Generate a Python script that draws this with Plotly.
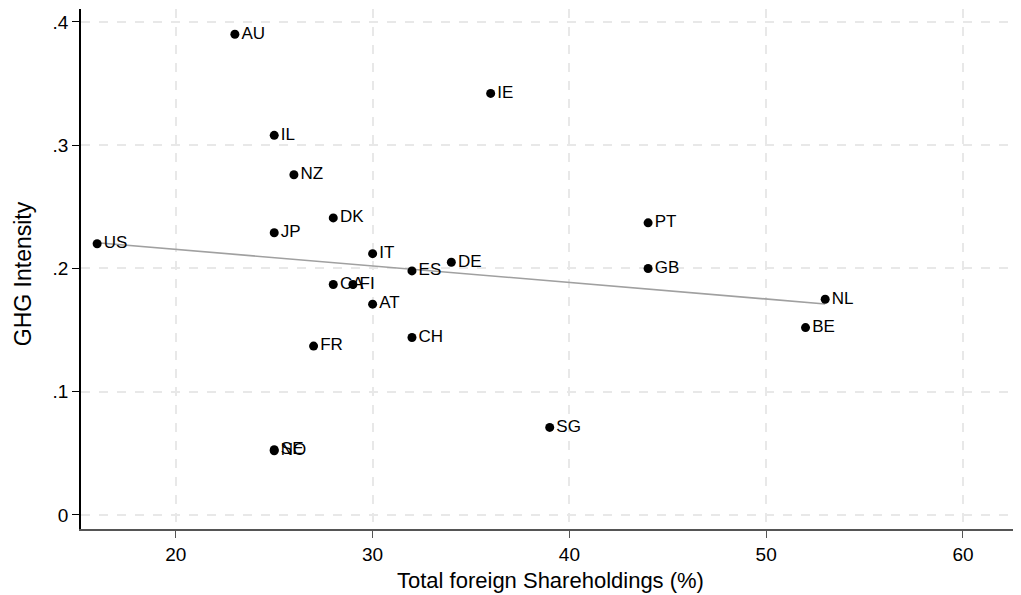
import numpy as np
import plotly.graph_objects as go

countries = ["US", "AU", "IE", "IL", "NZ", "DK", "JP", "PT", "IT", "DE", "ES",
             "GB", "CA", "FI", "AT", "NL", "BE", "CH", "FR", "SG", "SE", "NO"]
foreign_share = [16, 23, 36, 25, 26, 28, 25, 44, 30, 34, 32,
                 44, 28, 29, 30, 53, 52, 32, 27, 39, 25, 25]
ghg_intensity = [0.220, 0.390, 0.342, 0.308, 0.276, 0.241, 0.229, 0.237, 0.212, 0.205, 0.198,
                 0.200, 0.187, 0.187, 0.171, 0.175, 0.152, 0.144, 0.137, 0.071, 0.053, 0.052]

x_ticks = [20, 30, 40, 50, 60]
y_ticks = [0, 0.1, 0.2, 0.3, 0.4]
y_tick_labels = ["0", ".1", ".2", ".3", ".4"]
x_title = "Total foreign Shareholdings (%)"
y_title = "GHG Intensity"

xs = np.array(foreign_share, dtype=float)
ys = np.array(ghg_intensity, dtype=float)
slope, intercept = np.polyfit(xs, ys, 1)
fit_x = [xs.min(), xs.max()]
fit_y = [intercept + slope * v for v in fit_x]

FONT = "Liberation Sans, Arial, sans-serif"

fig = go.Figure()
fig.add_trace(go.Scatter(
    x=fit_x, y=fit_y, mode="lines",
    line=dict(color="#a0a0a0", width=1.6),
    hoverinfo="skip", showlegend=False))
fig.add_trace(go.Scatter(
    x=foreign_share, y=ghg_intensity, mode="markers+text",
    text=countries, textposition="middle right",
    textfont=dict(family=FONT, size=17, color="#000000"),
    marker=dict(color="#000000", size=9),
    showlegend=False))

# The page body has an 8px margin, so the figure is sized to fill the rest of the window.
fig.update_layout(
    width=1013, height=587,
    margin=dict(l=73, r=1, t=1, b=66),
    paper_bgcolor="white", plot_bgcolor="white",
    font=dict(family=FONT, size=18, color="#000000"),
    xaxis=dict(
        range=[15.18, 62.9], tickvals=x_ticks, automargin=False,
        showgrid=True, gridcolor="#e8e8e8", gridwidth=1.5, griddash="dash",
        zeroline=False, showline=True, linecolor="#555555", linewidth=1.5,
        ticks="outside", ticklen=7, tickcolor="#555555",
        tickfont=dict(family=FONT, size=19),
    ),
    yaxis=dict(
        range=[-0.0114, 0.4105], tickvals=y_ticks, ticktext=y_tick_labels, automargin=False,
        showgrid=True, gridcolor="#e8e8e8", gridwidth=1.5, griddash="dash",
        zeroline=False, showline=True, linecolor="#000000", linewidth=1.5,
        ticks="outside", ticklen=7, tickcolor="#000000",
        tickfont=dict(family=FONT, size=19),
    ),
    annotations=[
        dict(text=x_title, xref="paper", yref="paper", x=0.5, y=0.0, yshift=-51,
             showarrow=False, xanchor="center", yanchor="middle",
             font=dict(family=FONT, size=22, color="#000000")),
        dict(text=y_title, xref="paper", yref="paper", x=0, xshift=-58, y=0.49,
             showarrow=False, xanchor="center", yanchor="middle", textangle=-90,
             font=dict(family=FONT, size=23, color="#000000")),
    ],
)

fig.write_html("out.html")
